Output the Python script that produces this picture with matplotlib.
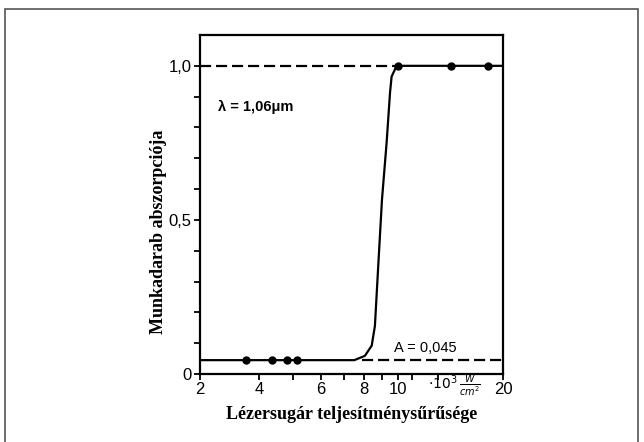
import matplotlib
matplotlib.use('Agg')
import matplotlib.pyplot as plt
from matplotlib.patches import Rectangle
from matplotlib.ticker import FixedLocator, NullFormatter

# measured points (x in 10^3 W/cm2, absorption)
low_x = [3.67, 4.36, 4.81, 5.14]
low_y = [0.045, 0.045, 0.045, 0.045]
high_x = [10.0, 14.2, 18.1]
high_y = [1.0, 1.0, 1.0]

# drawn curve
curve_x = [2.71, 7.5, 8.04, 8.41, 8.59, 8.78, 9.0, 9.28, 9.49, 9.59, 9.91, 10.0, 20.0]
curve_y = [0.045, 0.045, 0.059, 0.092, 0.156, 0.35, 0.566, 0.751, 0.913, 0.965, 1.0, 1.0, 1.0]

# dashed reference levels
a_low = 0.045
a_high = 1.0

x_min, x_max = 2.71, 20.0
x_major = [x_min, 4, 6, 8, 10, 20]
x_major_labels = ['2', '4', '6', '8', '10', '20']
x_minor = [5, 7, 9, 11, 13]
y_major = [0, 0.5, 1.0]
y_major_labels = ['0', '0,5', '1,0']
y_minor = [0.1, 0.2, 0.3, 0.4, 0.6, 0.7, 0.8, 0.9]

num_font = ['Liberation Sans', 'DejaVu Sans']
lab_font = ['Liberation Serif', 'DejaVu Serif']

fig = plt.figure(figsize=(6.44, 4.42), dpi=100)
ax = fig.add_axes([0.3106, 0.1538, 0.4705, 0.767])

ax.set_xscale('log')
ax.set_xlim(x_min, x_max)
ax.set_ylim(0, 1.1)

# dashed levels
ax.plot([x_min, 9.8], [a_high, a_high], color='black', lw=1.6, dashes=(5, 2.2))
ax.plot([7.9, x_max], [a_low, a_low], color='black', lw=1.6, dashes=(5, 2.2))

# curve + points
ax.plot(curve_x, curve_y, color='black', lw=1.6)
ax.plot(low_x, low_y, 'o', color='black', ms=5)
ax.plot(high_x, high_y, 'o', color='black', ms=5)

ax.xaxis.set_major_locator(FixedLocator(x_major))
ax.xaxis.set_minor_locator(FixedLocator(x_minor))
ax.xaxis.set_minor_formatter(NullFormatter())
ax.set_xticklabels(x_major_labels)
ax.yaxis.set_major_locator(FixedLocator(y_major))
ax.yaxis.set_minor_locator(FixedLocator(y_minor))
ax.set_yticklabels(y_major_labels)

ax.tick_params(which='both', direction='out', width=1.3, length=4, pad=2,
               labelsize=12)
for lbl in ax.get_xticklabels() + ax.get_yticklabels():
    lbl.set_family(num_font)
for s in ax.spines.values():
    s.set_linewidth(1.6)

ax.text(3.05, 0.865, 'λ = 1,06μm', family=num_font, fontsize=10.5, va='center',
        fontweight='bold')
ax.text(9.75, 0.083, 'A = 0,045', family=num_font, fontsize=10.5, va='center')
ax.text(14.5, -0.036, r'$\cdot10^3\,\frac{W}{cm^2}$', transform=ax.get_xaxis_transform(),
        fontsize=10, ha='center', va='center')

ax.set_ylabel('Munkadarab abszorpciója', family=lab_font, fontweight='bold',
              fontsize=13)
ax.yaxis.set_label_coords(-0.11, 0.42)
ax.set_xlabel('Lézersugár teljesítménysűrűsége', family=lab_font, fontweight='bold',
              fontsize=13, labelpad=6)

# outer frame of the scanned figure
fig.patches.append(Rectangle((5 / 644, -0.1), 633 / 644, 1.1 - 9 / 442,
                             transform=fig.transFigure, fill=False,
                             edgecolor='#555555', lw=1.2))

fig.savefig('out.png', dpi=100)
